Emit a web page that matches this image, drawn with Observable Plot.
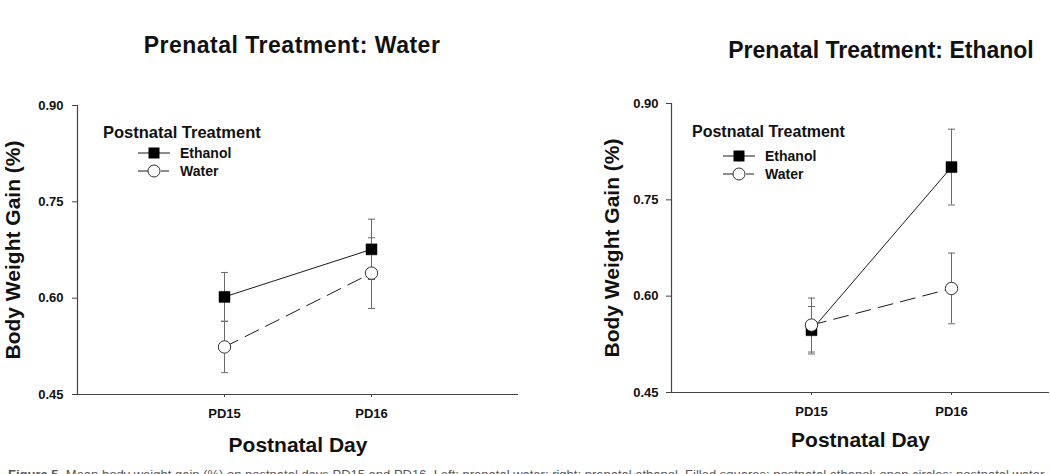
<!DOCTYPE html>
<html>
<head>
<meta charset="utf-8">
<script src="https://cdn.jsdelivr.net/npm/d3@7"></script>
<script src="https://cdn.jsdelivr.net/npm/@observablehq/plot@0.6"></script>
<style>
  html, body { margin: 0; padding: 0; background: #fff; }
  #root { position: relative; width: 1050px; height: 474px; overflow: hidden; background: #fff;
          font-family: "Liberation Sans", Arial, Helvetica, sans-serif; color: #111; }
  .abs { position: absolute; white-space: nowrap; }
  .title { font-weight: bold; font-size: 23px; line-height: 23px; transform: translate(-50%, -50%); }
  .legtitle { font-weight: bold; font-size: 16.5px; line-height: 16px; transform: translateY(-50%); }
  .legrow { font-weight: bold; font-size: 14px; line-height: 14px; display: flex; align-items: center; transform: translateY(-50%); }
  .legrow svg { margin-right: 9px; }
  .caption { font-size: 13px; line-height: 13px; color: #555; }
</style>
</head>
<body>
<div id="root"></div>
<script>
// ---- data ----
const dayLabels = ["PD15", "PD16"];
const dayPos = [1, 2];
const seriesNames = ["Ethanol", "Water"];

// Prenatal Treatment: Water
const pwEthanolMean = [0.602, 0.676];
const pwEthanolSem  = [0.038, 0.047];
const pwWaterMean   = [0.524, 0.639];
const pwWaterSem    = [0.040, 0.055];

// Prenatal Treatment: Ethanol
const peEthanolMean = [0.547, 0.801];
const peEthanolSem  = [0.037, 0.059];
const peWaterMean   = [0.555, 0.612];
const peWaterSem    = [0.042, 0.055];

const yTicks = [0.45, 0.60, 0.75, 0.90];

function buildRows(ethMean, ethSem, watMean, watSem) {
  const rows = [];
  dayPos.forEach((x, i) => {
    rows.push({series: "Ethanol", x, day: dayLabels[i], mean: ethMean[i], lo: ethMean[i] - ethSem[i], hi: ethMean[i] + ethSem[i]});
  });
  dayPos.forEach((x, i) => {
    rows.push({series: "Water", x, day: dayLabels[i], mean: watMean[i], lo: watMean[i] - watSem[i], hi: watMean[i] + watSem[i]});
  });
  return rows;
}

const capSymbol = { draw(ctx) { ctx.moveTo(-3.5, 0); ctx.lineTo(3.5, 0); } };

function panel(rows, opts) {
  const eth = rows.filter(d => d.series === "Ethanol");
  const wat = rows.filter(d => d.series === "Water");
  const axisColor = "#444";
  const errColor = "#6a6a6a";
  return Plot.plot({
    width: opts.width,
    height: 474,
    marginLeft: opts.marginLeft,
    marginRight: opts.marginRight,
    marginTop: opts.marginTop,
    marginBottom: opts.marginBottom,
    style: { fontFamily: "'Liberation Sans', Arial, Helvetica, sans-serif", background: "transparent", overflow: "visible", color: "#111" },
    x: { domain: opts.xDomain, axis: null },
    y: { domain: [0.45, 0.90], axis: null },
    marks: [
      // error bars
      Plot.ruleX(rows, { x: "x", y1: "lo", y2: "hi", stroke: errColor, strokeWidth: 1 }),
      Plot.dot(rows, { x: "x", y: "lo", symbol: capSymbol, stroke: errColor, strokeWidth: 1, fill: "none" }),
      Plot.dot(rows, { x: "x", y: "hi", symbol: capSymbol, stroke: errColor, strokeWidth: 1, fill: "none" }),
      // lines
      Plot.line(eth, { x: "x", y: "mean", stroke: "#1a1a1a", strokeWidth: 1 }),
      Plot.line(wat, { x: "x", y: "mean", stroke: "#1a1a1a", strokeWidth: 1, strokeDasharray: "15,8" }),
      // markers
      Plot.dot(eth, { x: "x", y: "mean", symbol: "square", r: 6.2, fill: "#000", stroke: "#000", strokeWidth: 0.5 }),
      Plot.dot(wat, { x: "x", y: "mean", symbol: "circle", r: 6.2, fill: "#fff", stroke: "#333", strokeWidth: 1 }),
      // axes
      Plot.ruleY([0.45], { stroke: axisColor, strokeWidth: 1.2 }),
      Plot.ruleX([opts.xDomain[0]], { stroke: axisColor, strokeWidth: 1.2 }),
      Plot.axisY({ ticks: yTicks, tickFormat: d3.format(".2f"), tickSize: 5, tickPadding: opts.yPad, stroke: axisColor,
                   fontSize: 13, fontWeight: "bold", label: null }),
      Plot.axisX({ ticks: dayPos, tickFormat: (d, i) => dayLabels[i], tickSize: 3, tickPadding: 11, stroke: axisColor,
                   fontSize: 13, fontWeight: "bold", label: null }),
      Plot.text(["Body Weight Gain (%)"], { frameAnchor: "left", textAnchor: "middle", lineAnchor: "middle", rotate: -90,
                   dx: -opts.yLabelDx, fontSize: 21, fontWeight: "bold", fill: "#111" }),
      Plot.text(["Postnatal Day"], { frameAnchor: "bottom", textAnchor: "middle", lineAnchor: "middle",
                   dy: opts.xLabelDy, fontSize: 21, fontWeight: "bold", fill: "#111" })
    ]
  });
}

const root = document.getElementById("root");

function place(el, left, top) {
  el.style.position = "absolute";
  el.style.left = left + "px";
  el.style.top = top + "px";
  root.appendChild(el);
}

const left = panel(buildRows(pwEthanolMean, pwEthanolSem, pwWaterMean, pwWaterSem), {
  width: 530, marginLeft: 77, marginRight: 12, marginTop: 105, marginBottom: 80,
  xDomain: [0, 3], yPad: 9, yLabelDx: 64, xLabelDy: 51
});
place(left, 0, 0);

const right = panel(buildRows(peEthanolMean, peEthanolSem, peWaterMean, peWaterSem), {
  width: 510, marginLeft: 131, marginRight: 1, marginTop: 103, marginBottom: 82,
  xDomain: [0, 2.7], yPad: 8, yLabelDx: 59, xLabelDy: 48
});
place(right, 540, 0);

function addText(cls, text, left, top, extraStyle) {
  const d = document.createElement("div");
  d.className = "abs " + cls;
  d.textContent = text;
  d.style.left = left + "px";
  d.style.top = top + "px";
  if (extraStyle) Object.assign(d.style, extraStyle);
  root.appendChild(d);
  return d;
}

addText("title", "Prenatal Treatment: Water", 292, 45, { letterSpacing: "0.5px" });
addText("title", "Prenatal Treatment: Ethanol", 881, 50);

function legendSwatch(series) {
  const ns = "http://www.w3.org/2000/svg";
  const svg = document.createElementNS(ns, "svg");
  svg.setAttribute("width", "34");
  svg.setAttribute("height", "14");
  if (series === "Ethanol") {
    svg.innerHTML = '<line x1="1" y1="7" x2="33" y2="7" stroke="#1a1a1a" stroke-width="1"/>' +
      '<rect x="11.5" y="1.5" width="11" height="11" fill="#000"/>';
  } else {
    svg.innerHTML = '<line x1="1" y1="7" x2="11" y2="7" stroke="#1a1a1a" stroke-width="1"/>' +
      '<line x1="24" y1="7" x2="32" y2="7" stroke="#1a1a1a" stroke-width="1"/>' +
      '<circle cx="17" cy="7" r="6" fill="#fff" stroke="#333" stroke-width="1"/>';
  }
  return svg;
}

function legend(x, titleY, rowX, rowYs, titleSize) {
  addText("legtitle", "Postnatal Treatment", x, titleY, { fontSize: titleSize + "px" });
  seriesNames.forEach((s, i) => {
    const row = document.createElement("div");
    row.className = "abs legrow";
    row.style.left = rowX + "px";
    row.style.top = rowYs[i] + "px";
    row.appendChild(legendSwatch(s));
    const t = document.createElement("span");
    t.textContent = s;
    row.appendChild(t);
    root.appendChild(row);
  });
}

legend(103, 132, 137, [153, 171], 16.5);
legend(692, 132, 722, [156, 174], 16);

// The reference's caption is cut off at the image edge and cannot be read; this line only
// describes what the chart itself shows.
addText("caption", "", 8, 468).innerHTML =
  "<b>Figure 5.</b> Mean body weight gain (%) on postnatal days PD15 and PD16. Left: prenatal water; right: prenatal ethanol. Filled squares: postnatal ethanol; open circles: postnatal water. Bars show error ranges.";
</script>
</body>
</html>
